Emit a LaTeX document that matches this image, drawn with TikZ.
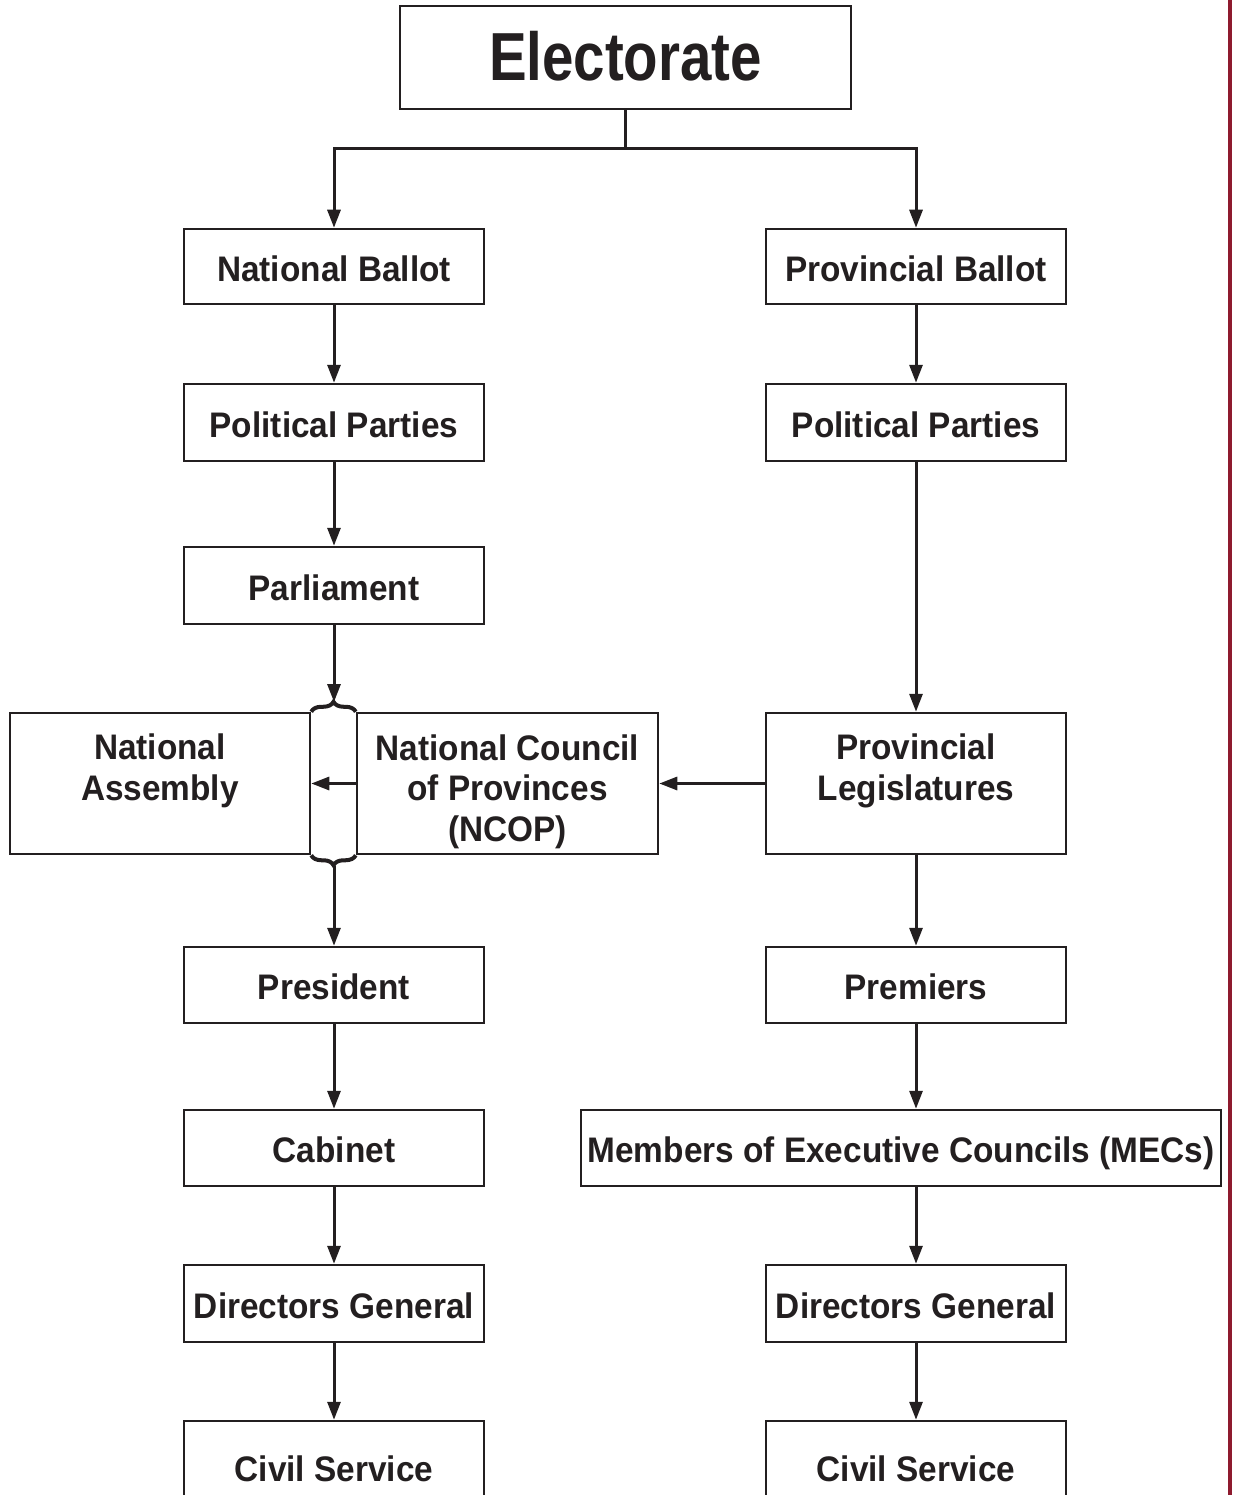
\documentclass[tikz,border=0pt]{standalone}
\usepackage{fontspec}
\setmainfont{Liberation Sans}
\newfontfamily\boxfont[FakeStretch=0.94]{Liberation Sans}
\newfontfamily\bigfont[FakeStretch=0.83]{Liberation Sans}
\usetikzlibrary{arrows.meta,decorations.pathreplacing}
\definecolor{ink}{HTML}{231F20}
\definecolor{edge}{HTML}{8E1A2E}
\begin{document}
\begin{tikzpicture}[x=1pt,y=-1pt,
  box/.style={draw=ink,line width=2.5pt,inner sep=0pt,minimum width=300pt,minimum height=76pt,
    text=ink,font=\boxfont\fontsize{35.5}{40.5}\selectfont\bfseries,align=center,
    text height=29.6pt,text depth=0pt},
  multi/.style={box,minimum height=141pt,text height=70pt,text depth=36.4pt},
  conn/.style={draw=ink,line width=3pt},
  arr/.style={conn,-{Triangle[length=18pt,width=13pt]}},
  brace/.style={draw=ink,line width=4pt,decorate,decoration={brace,amplitude=10pt}}]
\useasboundingbox (0,0) rectangle (1232,1495);
\begin{scope}
\clip (0,0) rectangle (1232,1495);
\fill[edge] (1228,0) rectangle (1232,1495);
\node[box,minimum width=451pt,minimum height=103pt,font=\bigfont\fontsize{68}{72}\selectfont\bfseries,
  text height=47pt] (elect) at (625.5,57.5) {Electorate};
\node[box,minimum height=75pt] (nb) at (334,266.5) {National Ballot};
\node[box,minimum height=75pt] (pb) at (916,266.5) {Provincial Ballot};
\node[box,minimum height=77pt] (pp1) at (334,422.5) {Political Parties};
\node[box,minimum height=77pt] (pp2) at (916,422.5) {Political Parties};
\node[box,minimum height=77pt] (parl) at (334,585.5) {Parliament};
\node[multi] (na) at (160,783.5) {National\\Assembly};
\node[multi,minimum width=301pt,text height=115pt,text depth=0pt] (ncop) at (507.5,783.5) {National Council\\of Provinces\\(NCOP)};
\node[multi] (pl) at (916,783.5) {Provincial\\Legislatures};
\node[box] (pres) at (334,985) {President};
\node[box] (prem) at (916,985) {Premiers};
\node[box] (cab) at (334,1148) {Cabinet};
\node[box,minimum width=640pt] (mec) at (901,1148) {Members of Executive Councils (MECs)};
\node[box,minimum height=77pt] (dg1) at (334,1303.5) {Directors General};
\node[box,minimum height=77pt] (dg2) at (916,1303.5) {Directors General};
\node[box,minimum height=92pt] (cs1) at (334,1467) {Civil Service};
\node[box,minimum height=92pt] (cs2) at (916,1467) {Civil Service};
\end{scope}
\coordinate (split) at (625.5,149);
\coordinate (btop) at (334,702);
\coordinate (bbot) at (334,866);
\draw[conn] (elect.south) -- (split);
\draw[arr] (split) -| (nb.north);
\draw[arr] (split) -| (pb.north);
\draw[arr] (nb) -- (pp1);
\draw[arr] (pp1) -- (parl);
\draw[arr] (parl.south) -- (btop);
\draw[brace] (na.north east) -- (ncop.north west);
\draw[brace] (ncop.south west) -- (na.south east);
\draw[arr] (ncop.west) -- (na.east);
\draw[arr] (pl.west) -- (ncop.east);
\draw[arr] (bbot) -- (pres.north);
\draw[arr] (pres) -- (cab);
\draw[arr] (cab) -- (dg1);
\draw[arr] (dg1) -- (cs1);
\draw[arr] (pb) -- (pp2);
\draw[arr] (pp2) -- (pl);
\draw[arr] (pl) -- (prem);
\draw[arr] (prem.south) -- (prem.south |- mec.north);
\draw[arr] (mec.south -| dg2.north) -- (dg2.north);
\draw[arr] (dg2) -- (cs2);
\end{tikzpicture}
\end{document}
